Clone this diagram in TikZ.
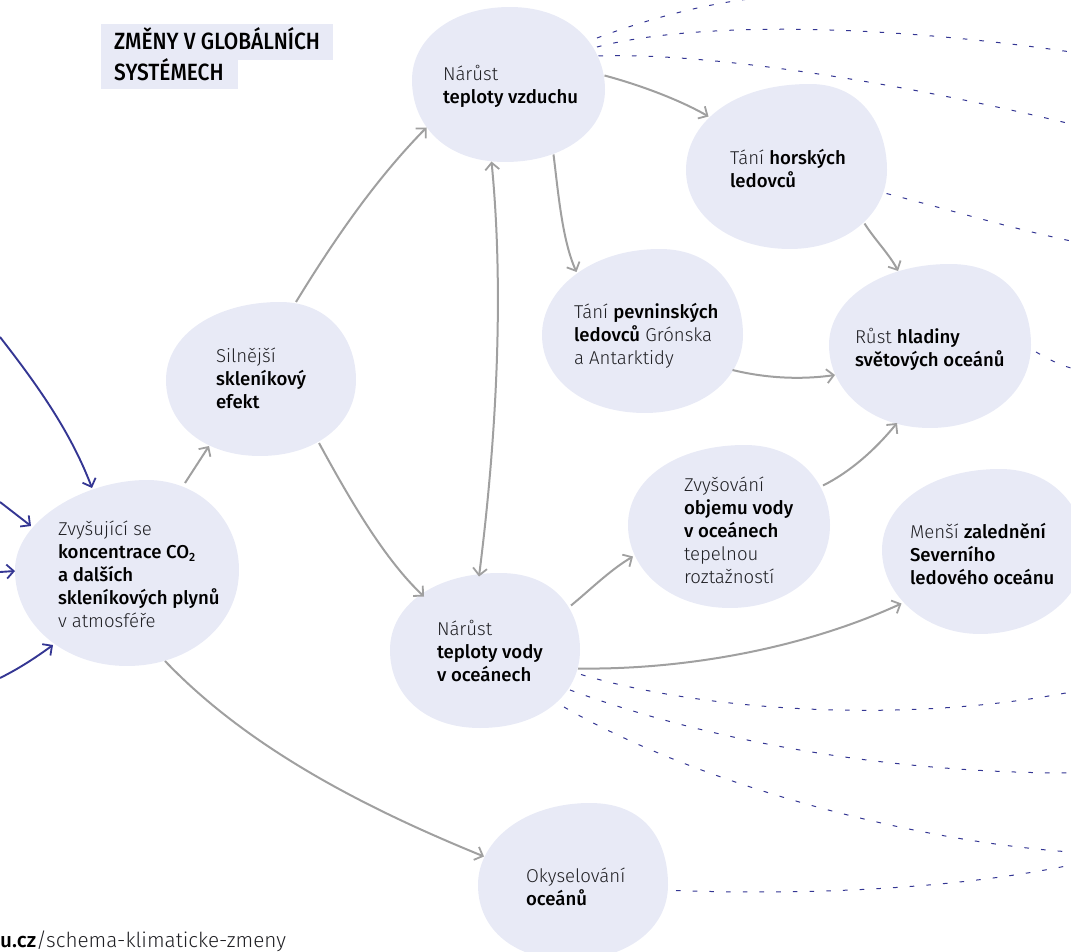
\documentclass[tikz,border=0pt]{standalone}
\usepackage{fontspec}
\setmainfont[BoldFont={Fira Sans Medium}]{Fira Sans Light}
\newfontfamily\headfont[FakeStretch=0.89]{Fira Sans Medium}
\usetikzlibrary{arrows.meta,calc}
\definecolor{blobc}{HTML}{E8EAF6}
\definecolor{grayc}{HTML}{A0A0A0}
\definecolor{bluec}{HTML}{343693}
\definecolor{txtc}{HTML}{202024}
\tikzset{
  x=1pt,y=-1pt,
  lab/.style={anchor=north west,align=left,inner sep=0pt,outer sep=0pt,text=txtc,font=\fontsize{18.6}{23}\selectfont},
  tip/.style={-{Straight Barb[length=7pt,width=14pt,line width=1.8pt]}},
  conn/.style={draw=grayc,line width=2pt,tip},
  blue/.style={draw=bluec,line width=1.9pt,tip},
  dsh/.style={draw=bluec,line width=1pt,dash pattern=on 4.6pt off 12.1pt},
}
\newcommand{\bb}[1]{\textbf{\textcolor{black}{#1}}}
\begin{document}
\begin{tikzpicture}
\useasboundingbox (0,0) rectangle (1071,952);
% blobs
\fill[blobc] (15,570) .. controls (15,520) and (85,480) .. (147,480) .. controls (200,480) and (239,520) .. (239,570) .. controls (239,625) and (190,666) .. (127,666) .. controls (65,666) and (15,625) .. (15,570) -- cycle;
\node[inner sep=0pt,minimum width=224pt,minimum height=186pt] (A) at (127,573) {};
\fill[blobc] (166,380) .. controls (166,335) and (215,302) .. (280,302) .. controls (330,302) and (356,340) .. (356,380) .. controls (356,425) and (315,456) .. (260,456) .. controls (205,456) and (166,425) .. (166,380) -- cycle;
\node[inner sep=0pt,minimum width=190pt,minimum height=154pt] (B) at (261,379) {};
\fill[blobc] (412,80) .. controls (412,40) and (450,7) .. (510,7) .. controls (570,7) and (605,45) .. (605,90) .. controls (605,130) and (565,162) .. (505,162) .. controls (445,162) and (412,125) .. (412,80) -- cycle;
\node[inner sep=0pt,minimum width=193pt,minimum height=155pt] (C) at (508.5,84.5) {};
\fill[blobc] (686,170) .. controls (686,125) and (730,84) .. (810,84) .. controls (865,84) and (887,130) .. (887,170) .. controls (887,215) and (845,249) .. (790,249) .. controls (730,249) and (686,215) .. (686,170) -- cycle;
\node[inner sep=0pt,minimum width=201pt,minimum height=165pt] (D) at (786.5,166.5) {};
\fill[blobc] (542,335) .. controls (542,290) and (590,249) .. (660,249) .. controls (715,249) and (743,290) .. (743,335) .. controls (743,380) and (700,413) .. (645,413) .. controls (585,413) and (542,380) .. (542,335) -- cycle;
\node[inner sep=0pt,minimum width=201pt,minimum height=164pt] (E) at (642.5,331) {};
\fill[blobc] (829,345) .. controls (829,300) and (880,264) .. (950,264) .. controls (1005,264) and (1031,300) .. (1031,345) .. controls (1031,395) and (985,428) .. (930,428) .. controls (870,428) and (829,390) .. (829,345) -- cycle;
\node[inner sep=0pt,minimum width=202pt,minimum height=164pt] (F) at (930,346) {};
\fill[blobc] (628,525) .. controls (628,480) and (675,445) .. (745,445) .. controls (800,445) and (830,485) .. (830,525) .. controls (830,575) and (785,608) .. (730,608) .. controls (670,608) and (628,570) .. (628,525) -- cycle;
\node[inner sep=0pt,minimum width=202pt,minimum height=163pt] (G) at (729,526.5) {};
\fill[blobc] (882,550) .. controls (882,505) and (930,469) .. (1000,469) .. controls (1055,469) and (1085,510) .. (1085,550) .. controls (1085,600) and (1035,634) .. (980,634) .. controls (925,634) and (882,595) .. (882,550) -- cycle;
\node[inner sep=0pt,minimum width=203pt,minimum height=165pt] (H) at (983.5,551.5) {};
\fill[blobc] (390,650) .. controls (390,605) and (435,573) .. (500,573) .. controls (555,573) and (580,610) .. (580,650) .. controls (580,695) and (540,728) .. (480,728) .. controls (425,728) and (390,695) .. (390,650) -- cycle;
\node[inner sep=0pt,minimum width=190pt,minimum height=155pt] (I) at (485,650.5) {};
\fill[blobc] (478,885) .. controls (478,840) and (525,803) .. (590,803) .. controls (645,803) and (668,840) .. (668,885) .. controls (668,930) and (625,960) .. (570,960) .. controls (515,960) and (478,930) .. (478,885) -- cycle;
\node[inner sep=0pt,minimum width=190pt,minimum height=157pt] (J) at (573,881.5) {};
% heading
\fill[blobc] (101,24) rectangle (333,60);
\fill[blobc] (101,60) rectangle (238,89);
\node[anchor=north west,align=left,inner sep=0pt,font=\headfont\fontsize{23.5}{31}\selectfont,text=black] (title) at (114,27) {ZMĚNY V GLOBÁLNÍCH\\SYSTÉMECH};
% labels
\node[lab] (tA) at (58,521) {Zvyšující se\\\bb{koncentrace CO\textsubscript{\fontsize{12}{12}\selectfont 2}}\\\bb{a dalších}\\\bb{skleníkových plynů}\\v atmosféře};
\node[lab] (tB) at (216,348) {Silnější\\\bb{skleníkový}\\\bb{efekt}};
\node[lab] (tC) at (443,65) {Nárůst\\\bb{teploty vzduchu}};
\node[lab] (tD) at (730,149) {Tání \bb{horských}\\\bb{ledovců}};
\node[lab] (tE) at (574,303) {Tání \bb{pevninských}\\\bb{ledovců} Grónska\\a Antarktidy};
\node[lab] (tF) at (855,328) {Růst \bb{hladiny}\\\bb{světových oceánů}};
\node[lab] (tG) at (684,477) {Zvyšování\\\bb{objemu vody}\\\bb{v oceánech}\\tepelnou\\roztažností};
\node[lab] (tH) at (910,523) {Menší \bb{zalednění}\\\bb{Severního}\\\bb{ledového oceánu}};
\node[lab] (tI) at (437,620) {Nárůst\\\bb{teploty vody}\\\bb{v oceánech}};
\node[lab] (tJ) at (526,868) {Okyselování\\\bb{oceánů}};
\node[anchor=base west,inner sep=0pt,text=txtc,font=\fontsize{20.7}{23}\selectfont] (url) at (0,947) {\bb{u.cz}/schema-klimaticke-zmeny};
% free ends
\coordinate (bl1) at (0,337);
\coordinate (bl2) at (0,502);
\coordinate (bl3) at (0,572);
\coordinate (bl4) at (0,678);
\coordinate (d1) at (1071,124);
\coordinate (d2) at (1071,241);
\coordinate (d3) at (1071,368);
\coordinate (d4) at (1071,692);
\coordinate (d5) at (1071,773);
\coordinate (d6) at (1071,852);
\coordinate (d7) at (1071,865);
\coordinate (d8) at (749,-1);
\coordinate (d9) at (1071,52);
% blue connectors
\draw[blue] (bl1) .. controls (35,382) and (70,430) .. ([shift={(-35,-85)}]A.center);
\draw[blue] (bl2) -- ([shift={(-96,-47)}]A.center);
\draw[blue] (bl3) -- ([shift={(-112,-2)}]A.center);
\draw[blue] (bl4) .. controls (20,668) and (35,658) .. ([shift={(-74,72)}]A.center);
% grey connectors
\draw[conn] ([shift={(58,-90)}]A.center) -- ([shift={(-52,67)}]B.center);
\draw[conn] ([shift={(35,-77)}]B.center) .. controls (340,230) and (380,175) .. ([shift={(-82,43)}]C.center);
\draw[conn] ([shift={(58,64)}]B.center) .. controls (350,500) and (385,560) .. ([shift={(-61,-54)}]I.center);
\draw[conn,{Straight Barb[length=7pt,width=14pt,line width=1.8pt]}-{Straight Barb[length=7pt,width=14pt,line width=1.8pt]}] ([shift={(-17,77)}]C.center) .. controls (505,300) and (495,450) .. ([shift={(-6,-74)}]I.center);
\draw[conn] ([shift={(96,-9)}]C.center) .. controls (640,85) and (680,100) .. ([shift={(-78,-50)}]D.center);
\draw[conn] ([shift={(45,70)}]C.center) .. controls (558,190) and (562,240) .. ([shift={(-66,-59)}]E.center);
\draw[conn] ([shift={(78,57)}]D.center) .. controls (875,240) and (890,255) .. ([shift={(-32,-75)}]F.center);
\draw[conn] ([shift={(90,39)}]E.center) .. controls (765,378) and (800,380) .. ([shift={(-95,29)}]F.center);
\draw[conn] ([shift={(94,-41)}]G.center) .. controls (850,472) and (875,450) .. ([shift={(-33,77)}]F.center);
\draw[conn] ([shift={(86,-45)}]I.center) .. controls (590,590) and (610,570) .. ([shift={(-96,30)}]G.center);
\draw[conn] ([shift={(93,18)}]I.center) .. controls (680,670) and (800,650) .. ([shift={(-82,52)}]H.center);
\draw[conn] ([shift={(38,88)}]A.center) .. controls (250,750) and (370,810) .. ([shift={(-89,-25)}]J.center);
% dashed
\draw[dsh] ([shift={(88.5,-46.5)}]C.center) .. controls (645,20) and (700,5) .. (d8);
\draw[dsh] ([shift={(88.5,-37.5)}]C.center) .. controls (680,25) and (850,20) .. (d9);
\draw[dsh] ([shift={(90,-28.5)}]C.center) .. controls (700,52) and (890,80) .. (d1);
\draw[dsh] ([shift={(100,27)}]D.center) .. controls (950,210) and (1010,228) .. (d2);
\draw[dsh] ([shift={(106,6)}]F.center) .. controls (1050,360) and (1060,365) .. (d3);
\draw[dsh] ([shift={(96,24)}]I.center) .. controls (700,710) and (900,725) .. (d4);
\draw[dsh] ([shift={(85,39.5)}]I.center) .. controls (720,745) and (900,773) .. (d5);
\draw[dsh] ([shift={(79,56.5)}]I.center) .. controls (690,780) and (900,840) .. (d6);
\draw[dsh] ([shift={(103,9)}]J.center) .. controls (800,895) and (950,890) .. (d7);
\end{tikzpicture}
\end{document}
